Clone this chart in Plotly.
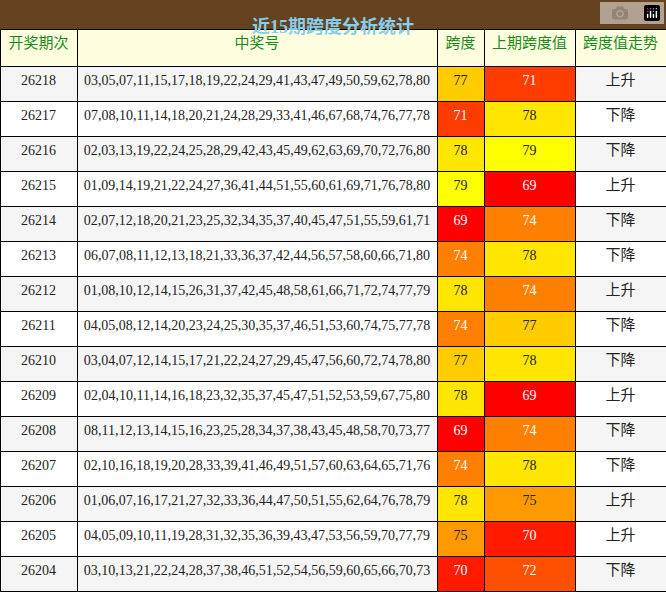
import plotly.graph_objects as go

periods = ["26218","26217","26216","26215","26214","26213","26212","26211","26210","26209","26208","26207","26206","26205","26204"]
numbers = [
"03,05,07,11,15,17,18,19,22,24,29,41,43,47,49,50,59,62,78,80",
"07,08,10,11,14,18,20,21,24,28,29,33,41,46,67,68,74,76,77,78",
"02,03,13,19,22,24,25,28,29,42,43,45,49,62,63,69,70,72,76,80",
"01,09,14,19,21,22,24,27,36,41,44,51,55,60,61,69,71,76,78,80",
"02,07,12,18,20,21,23,25,32,34,35,37,40,45,47,51,55,59,61,71",
"06,07,08,11,12,13,18,21,33,36,37,42,44,56,57,58,60,66,71,80",
"01,08,10,12,14,15,26,31,37,42,45,48,58,61,66,71,72,74,77,79",
"04,05,08,12,14,20,23,24,25,30,35,37,46,51,53,60,74,75,77,78",
"03,04,07,12,14,15,17,21,22,24,27,29,45,47,56,60,72,74,78,80",
"02,04,10,11,14,16,18,23,32,35,37,45,47,51,52,53,59,67,75,80",
"08,11,12,13,14,15,16,23,25,28,34,37,38,43,45,48,58,70,73,77",
"02,10,16,18,19,20,28,33,39,41,46,49,51,57,60,63,64,65,71,76",
"01,06,07,16,17,21,27,32,33,36,44,47,50,51,55,62,64,76,78,79",
"04,05,09,10,11,19,28,31,32,35,36,39,43,47,53,56,59,70,77,79",
"03,10,13,21,22,24,28,37,38,46,51,52,54,56,59,60,65,66,70,73",
]
span = [77,71,78,79,69,74,78,74,77,78,69,74,78,75,70]
prev_span = [71,78,79,69,74,78,74,77,78,69,74,78,75,70,72]
trend = ["上升","下降","下降","上升","下降","下降","上升","下降","下降","上升","下降","下降","上升","上升","下降"]
headers = ["开奖期次","中奖号","跨度","上期跨度值","跨度值走势"]

cmap = {69:"#ff0000",70:"#ff1a00",71:"#ff3c00",72:"#ff4f00",73:"#ff6600",74:"#ff8000",
        75:"#ff9900",76:"#ffb300",77:"#ffcc00",78:"#ffe600",79:"#ffff00",80:"#ffff33"}
def fc(v): return "white" if v <= 74 else "#222222"

rowbg = ["#f5f5f5" if i % 2 == 0 else "white" for i in range(len(periods))]

fig = go.Figure(go.Table(
    columnwidth=[77,360,47,91,91],
    domain=dict(x=[0,1], y=[0,1-29/592]),
    header=dict(values=headers, fill_color="#ffffe0", line=dict(color="black", width=1),
                font=dict(color="#1a8a1a", size=15, family="Noto Sans CJK SC"), height=37, align="center"),
    cells=dict(values=[periods, numbers, span, prev_span, trend],
               fill_color=[rowbg, rowbg, [cmap[v] for v in span], [cmap[v] for v in prev_span], rowbg],
               font=dict(color=[["#222"]*15, ["#222"]*15, [fc(v) for v in span], [fc(v) for v in prev_span], ["#222"]*15],
                         size=[14,14,14,14,15], family=["Liberation Serif","Liberation Serif","Liberation Serif","Liberation Serif","Noto Sans CJK SC"]),
               line=dict(color="black", width=1), height=35, align="center")
))
fig.add_shape(type="rect", xref="paper", yref="paper", x0=0, x1=1, y0=1-29/592, y1=1,
              fillcolor="#654321", line=dict(width=0), layer="below")
fig.add_annotation(text="<b>近15期跨度分析统计</b>", xref="paper", yref="paper", x=0.5, y=1-14.5/592,
                   showarrow=False, font=dict(color="#87ceeb", size=18, family="Liberation Serif, Noto Sans CJK SC"))
fig.update_layout(width=666, height=592, margin=dict(l=0,r=0,t=0,b=0), paper_bgcolor="white")
fig.write_html("out.html", post_script="document.body.style.margin='0';document.body.style.overflow='hidden';")
